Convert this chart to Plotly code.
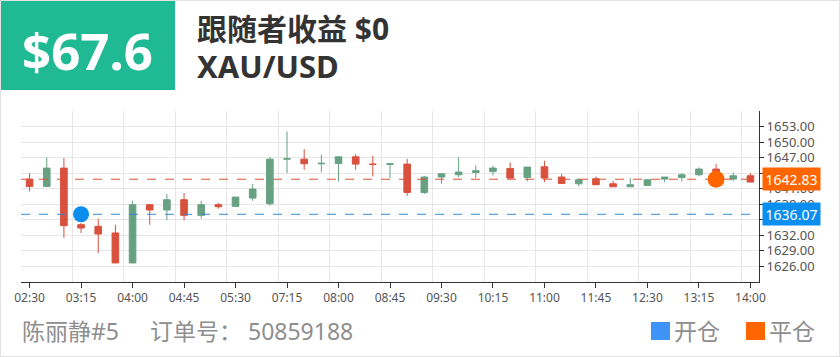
import plotly.graph_objects as go

# ---------------- data ----------------
times = ["02:30", "02:45", "03:00", "03:15", "03:30", "03:45", "04:00", "04:15", "04:30",
         "04:45", "05:00", "05:15", "05:30", "05:45", "07:00", "07:15", "07:30", "07:45",
         "08:00", "08:15", "08:30", "08:45", "09:00", "09:15", "09:30", "09:45", "10:00",
         "10:15", "10:30", "10:45", "11:00", "11:15", "11:30", "11:45", "12:00", "12:15",
         "12:30", "12:45", "13:00", "13:15", "13:30", "13:45", "14:00"]

opens = [1642.86, 1641.45, 1644.98, 1634.06, 1633.74, 1632.46, 1626.68, 1637.92, 1636.89,
         1638.88, 1635.86, 1637.92, 1637.60, 1639.20, 1638.11, 1646.71, 1646.71, 1645.82,
         1645.88, 1647.16, 1645.75, 1645.70, 1645.75, 1640.29, 1643.25, 1643.70, 1644.15,
         1644.34, 1644.92, 1643.18, 1645.24, 1643.25, 1641.96, 1642.93, 1641.96, 1641.38,
         1641.64, 1642.86, 1643.18, 1643.70, 1644.79, 1642.86, 1643.50]
highs = [1644.02, 1647.04, 1646.90, 1634.38, 1635.22, 1634.06, 1638.69, 1638.00, 1639.97,
         1640.16, 1638.69, 1638.24, 1639.39, 1641.90, 1647.10, 1652.05, 1648.64, 1647.55,
         1647.16, 1647.68, 1647.36, 1645.90, 1646.78, 1643.50, 1643.89, 1647.10, 1645.49,
         1645.43, 1646.07, 1645.17, 1646.39, 1643.89, 1643.05, 1643.37, 1642.54, 1643.05,
         1642.73, 1643.25, 1644.02, 1645.11, 1645.76, 1644.15, 1644.02]
lows = [1640.48, 1641.40, 1631.50, 1632.46, 1628.60, 1626.68, 1626.68, 1634.06, 1634.90,
        1634.90, 1635.22, 1637.15, 1637.60, 1638.69, 1637.72, 1644.02, 1644.66, 1644.15,
        1642.41, 1644.66, 1643.37, 1643.05, 1639.65, 1639.97, 1641.96, 1643.18, 1643.05,
        1643.57, 1642.86, 1642.41, 1642.28, 1642.03, 1641.45, 1641.77, 1641.38, 1641.38,
        1641.64, 1642.28, 1642.41, 1643.37, 1642.50, 1642.41, 1642.28]
closes = [1641.45, 1644.98, 1633.87, 1633.42, 1632.26, 1626.68, 1637.92, 1636.89, 1638.88,
          1635.86, 1637.92, 1637.53, 1639.39, 1640.93, 1646.71, 1646.80, 1645.82, 1645.90,
          1647.16, 1645.75, 1645.70, 1645.80, 1640.29, 1643.25, 1643.89, 1644.21, 1644.47,
          1644.98, 1643.05, 1645.17, 1643.05, 1642.03, 1642.73, 1641.77, 1641.38, 1641.77,
          1642.73, 1643.25, 1643.70, 1644.79, 1643.20, 1643.50, 1642.28]

x_tick_labels = ["02:30", "03:15", "04:00", "04:45", "05:30", "07:15", "08:00", "08:45",
                 "09:30", "10:15", "11:00", "11:45", "12:30", "13:15", "14:00"]
y_ticks = [1626, 1629, 1632, 1635, 1638, 1641, 1644, 1647, 1650, 1653]

open_time = "03:15"
open_price = 1636.07
close_time = "13:30"
close_price = 1642.83

profit_text = "$67.6"
title_text = "跟随者收益 $0"
symbol_text = "XAU/USD"
footer_name = "陈丽静#5"
footer_order = "订单号： 50859188"
legend_open = "开仓"
legend_close = "平仓"

# ---------------- style ----------------
GREEN = "#67a182"
RED = "#d9503d"
BLUE = "#0c8ef0"
ORANGE = "#ff6600"
GRID = "#e6e6e6"
FONT = "Noto Sans, Noto Sans CJK SC, sans-serif"

W, H = 840, 357
L, R, T, B = 21, 759, 111, 282


def px(x):
    return (x - L) / (R - L)


def py(y):
    return (B - y) / (B - T)


idx = list(range(len(times)))
tickvals = [times.index(t) for t in x_tick_labels]
x_span = [-0.5, len(times) - 0.5]

fig = go.Figure()
fig.add_trace(go.Candlestick(
    x=idx, open=opens, high=highs, low=lows, close=closes,
    increasing=dict(line=dict(color=GREEN, width=1), fillcolor=GREEN),
    decreasing=dict(line=dict(color=RED, width=1), fillcolor=RED),
    whiskerwidth=0, hoverinfo="skip", showlegend=False))

# price reference lines (drawn above candles, below markers)
fig.add_trace(go.Scatter(x=x_span, y=[close_price, close_price], mode="lines",
                         line=dict(color="#dd5535", width=1, dash="dash"),
                         hoverinfo="skip", showlegend=False))
fig.add_trace(go.Scatter(x=x_span, y=[open_price, open_price], mode="lines",
                         line=dict(color="#2f8ad6", width=1, dash="dash"),
                         hoverinfo="skip", showlegend=False))

fig.add_trace(go.Scatter(x=[times.index(open_time)], y=[open_price], mode="markers",
                         marker=dict(size=16, color=BLUE), hoverinfo="skip", showlegend=False))
fig.add_trace(go.Scatter(x=[times.index(close_time)], y=[close_price], mode="markers",
                         marker=dict(size=17, color=ORANGE), hoverinfo="skip", showlegend=False))

shapes = [
    dict(type="rect", xref="paper", yref="paper", x0=px(0), x1=px(175), y0=py(90), y1=py(0),
         fillcolor="#1fb993", line=dict(width=0)),
    dict(type="rect", xref="paper", yref="paper", x0=px(651), x1=px(670), y0=py(340), y1=py(322),
         fillcolor="#3d94f6", line=dict(width=0)),
    dict(type="rect", xref="paper", yref="paper", x0=px(746), x1=px(765), y0=py(340), y1=py(322),
         fillcolor=ORANGE, line=dict(width=0)),
    dict(type="rect", xref="paper", yref="paper", x0=px(0.5), x1=px(839.5), y0=py(356.5), y1=py(0.5),
         fillcolor="rgba(0,0,0,0)", line=dict(color="#e3e3e3", width=1)),
]

annotations = [
    dict(text="<b>%s</b>" % profit_text, xref="paper", yref="paper", x=px(87), y=py(50),
         xanchor="center", yanchor="middle", showarrow=False,
         font=dict(size=51, color="white", family=FONT)),
    dict(text="<b>%s</b>" % title_text, xref="paper", yref="paper", x=px(195), y=py(29),
         xanchor="left", yanchor="middle", showarrow=False,
         font=dict(size=30, color="#333333", family=FONT)),
    dict(text="<b>%s</b>" % symbol_text, xref="paper", yref="paper", x=px(195), y=py(66),
         xanchor="left", yanchor="middle", showarrow=False,
         font=dict(size=31, color="#333333", family=FONT)),
    dict(text=footer_name, xref="paper", yref="paper", x=px(20), y=py(331),
         xanchor="left", yanchor="middle", showarrow=False,
         font=dict(size=23, color="#8e8e8e", family=FONT)),
    dict(text=footer_order, xref="paper", yref="paper", x=px(148), y=py(331),
         xanchor="left", yanchor="middle", showarrow=False,
         font=dict(size=23, color="#8e8e8e", family=FONT)),
    dict(text=legend_open, xref="paper", yref="paper", x=px(672), y=py(331),
         xanchor="left", yanchor="middle", showarrow=False,
         font=dict(size=23, color="#8e8e8e", family=FONT)),
    dict(text=legend_close, xref="paper", yref="paper", x=px(767), y=py(331),
         xanchor="left", yanchor="middle", showarrow=False,
         font=dict(size=23, color="#8e8e8e", family=FONT)),
    dict(text="%.2f" % close_price, xref="paper", yref="y", x=px(762), y=close_price,
         xanchor="left", yanchor="middle", showarrow=False, bgcolor=ORANGE,
         width=57, height=22, borderpad=0, font=dict(size=14, color="white", family=FONT)),
    dict(text="%.2f" % open_price, xref="paper", yref="y", x=px(762), y=open_price,
         xanchor="left", yanchor="middle", showarrow=False, bgcolor="#0a8ef0",
         width=57, height=22, borderpad=0, font=dict(size=14, color="white", family=FONT)),
]

fig.update_layout(
    width=W, height=H,
    margin=dict(l=L, r=W - R, t=T, b=H - B, pad=0),
    paper_bgcolor="white", plot_bgcolor="white",
    font=dict(family=FONT, color="#555555"),
    boxgap=0.45,
    showlegend=False,
    hovermode=False,
    shapes=shapes,
    annotations=annotations,
    xaxis=dict(
        range=x_span,
        tickmode="array", tickvals=tickvals, ticktext=x_tick_labels,
        showgrid=False, zeroline=False,
        minor=dict(tick0=-0.5, dtick=3, showgrid=True, gridcolor=GRID, gridwidth=1, ticks=""),
        showline=True, linecolor="#333333", linewidth=1,
        ticks="outside", ticklen=5, tickcolor="#333333",
        tickfont=dict(size=12, color="#555555"),
        rangeslider=dict(visible=False), fixedrange=True,
    ),
    yaxis=dict(
        range=[1623, 1656], side="right",
        tickmode="array", tickvals=y_ticks, ticktext=["%.2f" % v for v in y_ticks],
        showgrid=True, gridcolor=GRID, zeroline=False,
        minor=dict(tick0=1623, dtick=3, showgrid=True, gridcolor=GRID, gridwidth=1, ticks=""),
        showline=True, linecolor="#333333", linewidth=1,
        ticks="outside", ticklen=4, tickcolor="#333333",
        tickfont=dict(size=13, color="#555555"), fixedrange=True,
    ),
)

fig.write_html("out.html", config={"displayModeBar": False, "staticPlot": True},
               post_script="document.body.style.margin='0';document.body.style.overflow='hidden';")
